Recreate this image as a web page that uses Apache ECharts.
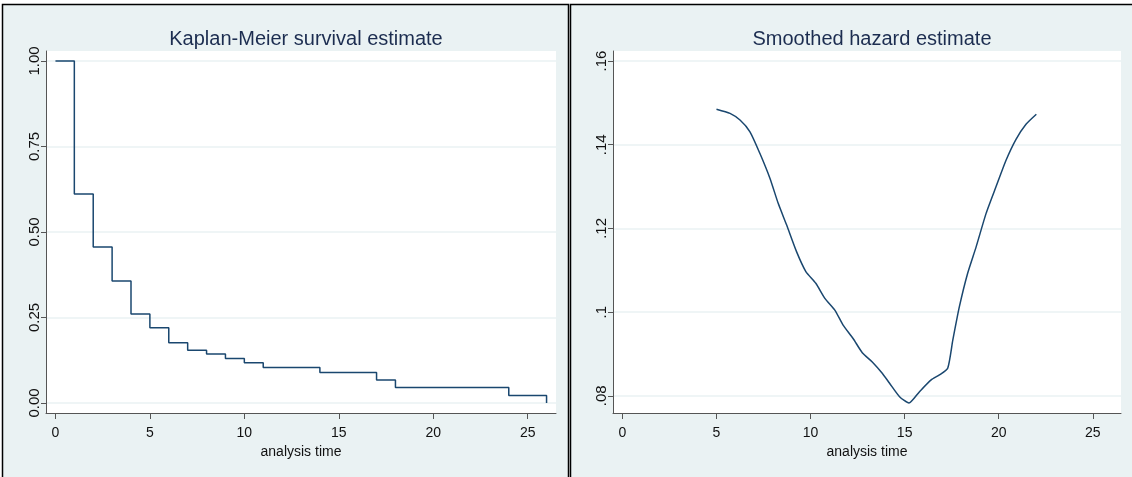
<!DOCTYPE html>
<html>
<head>
<meta charset="utf-8">
<script src="https://cdn.jsdelivr.net/npm/echarts@6/dist/echarts.min.js"></script>
<style>
html,body{margin:0;padding:0;background:#ffffff;}
#chart{width:1132px;height:477px;}
</style>
</head>
<body>
<div id="chart"></div>
<script>
// Kaplan-Meier survival estimate (step function)
const kmTime = [0, 1, 2, 3, 4, 5, 6, 7, 8, 9, 10, 11, 14, 17, 18, 24, 26];
const kmSurv = [1.00, 0.611, 0.456, 0.357, 0.260, 0.220, 0.176, 0.154, 0.143, 0.130, 0.118, 0.104, 0.089, 0.067, 0.045, 0.022, 0.00];

// Smoothed hazard estimate
const hzTime = [5.0, 5.72, 6.25, 6.78, 7.31, 7.84, 8.28, 8.73, 9.26, 9.75, 10.28, 10.76, 11.29, 11.73, 12.26, 12.75, 13.28, 13.81, 14.2, 14.73, 15.23, 15.79, 16.41, 16.85, 17.29, 17.56, 17.91, 18.35, 18.8, 19.33, 19.86, 20.39, 20.92, 21.45, 22.0];
const hzVal = [0.1485, 0.1475, 0.1459, 0.1431, 0.1379, 0.1320, 0.1260, 0.1208, 0.1144, 0.1097, 0.1069, 0.1033, 0.1005, 0.0969, 0.0937, 0.0903, 0.0881, 0.0854, 0.0830, 0.0798, 0.0783, 0.0810, 0.0838, 0.0850, 0.0866, 0.0933, 0.1013, 0.1093, 0.1156, 0.1236, 0.1300, 0.1363, 0.1413, 0.1449, 0.1473];

const xTicks = [0, 5, 10, 15, 20, 25];
const kmYTicks = [0, 0.25, 0.5, 0.75, 1];
const hzYTicks = [0.08, 0.1, 0.12, 0.14, 0.16];

const titles = ['Kaplan-Meier survival estimate', 'Smoothed hazard estimate'];
const xName = 'analysis time';

const BG = '#EAF2F3';
const NAVY = '#1a476f';
const TITLE_C = '#1c2d50';
const AXIS_C = '#555555';

function xAxisCfg(idx) {
  return {
    type: 'value', gridIndex: idx, min: -0.5, max: 26.5,
    name: xName, nameLocation: 'middle', nameGap: 28,
    nameTextStyle: {fontFamily: 'Liberation Sans', fontSize: 14, color: '#111'},
    axisLine: {show: true, onZero: false, lineStyle: {color: AXIS_C, width: 1}},
    axisTick: {show: true, length: 6, customValues: xTicks, lineStyle: {color: AXIS_C}},
    axisLabel: {customValues: xTicks, margin: 13, fontFamily: 'Liberation Sans', fontSize: 14, color: '#111'},
    splitLine: {show: false}
  };
}
function yAxisCfg(idx, min, max, ticks, fmt) {
  return {
    type: 'value', gridIndex: idx, min: min, max: max,
    axisLine: {show: true, onZero: false, lineStyle: {color: AXIS_C, width: 1}},
    axisTick: {show: true, length: 5, customValues: ticks, lineStyle: {color: AXIS_C}},
    axisLabel: {customValues: ticks, rotate: 90, margin: 4, fontFamily: 'Liberation Sans', fontSize: 15, color: '#111', formatter: fmt},
    splitLine: {show: true, lineStyle: {color: BG, width: 1.5}}
  };
}

const chart = echarts.init(document.getElementById('chart'), null, {renderer: 'canvas'});
chart.setOption({
  animation: false,
  backgroundColor: '#ffffff',
  graphic: [
    {type: 'rect', z: -10, shape: {x: 2.5, y: 4.5, width: 566, height: 480}, style: {fill: BG, stroke: '#000', lineWidth: 1.5}},
    {type: 'rect', z: -10, shape: {x: 570.5, y: 4.5, width: 570, height: 480}, style: {fill: BG, stroke: '#000', lineWidth: 1.5}}
  ],
  title: [
    {text: titles[0], left: 301, top: 24, textAlign: 'center', textStyle: {fontFamily: 'Liberation Sans', fontSize: 20, fontWeight: 'normal', color: TITLE_C}},
    {text: titles[1], left: 867, top: 24, textAlign: 'center', textStyle: {fontFamily: 'Liberation Sans', fontSize: 20, fontWeight: 'normal', color: TITLE_C}}
  ],
  grid: [
    {left: 46, right: 576, top: 51, bottom: 64, show: true, backgroundColor: '#ffffff', borderWidth: 0},
    {left: 613, right: 11, top: 51, bottom: 64, show: true, backgroundColor: '#ffffff', borderWidth: 0}
  ],
  xAxis: [xAxisCfg(0), xAxisCfg(1)],
  yAxis: [
    yAxisCfg(0, -0.0292, 1.0292, kmYTicks, v => v.toFixed(2)),
    yAxisCfg(1, 0.0759, 0.1624, hzYTicks, v => String(+v.toFixed(2)).replace(/^0/, ''))
  ],
  series: [
    {type: 'line', xAxisIndex: 0, yAxisIndex: 0, step: 'end', symbol: 'none',
     data: kmTime.map((t, i) => [t, kmSurv[i]]),
     lineStyle: {color: NAVY, width: 1.5}},
    {type: 'line', xAxisIndex: 1, yAxisIndex: 1, symbol: 'none', smooth: 0.2,
     data: hzTime.map((t, i) => [t, hzVal[i]]),
     lineStyle: {color: NAVY, width: 1.5}}
  ]
});
</script>
</body>
</html>
